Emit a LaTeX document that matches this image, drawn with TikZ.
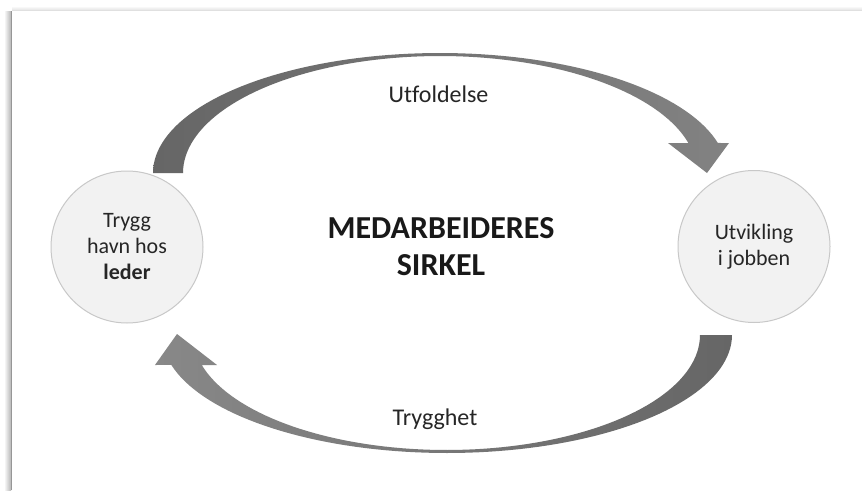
\documentclass[tikz,border=0pt]{standalone}
\usepackage{fontspec}
\setmainfont{Carlito}[Ligatures={NoCommon}]
\definecolor{arrowdark}{RGB}{102,102,102}
\definecolor{arrowlightA}{RGB}{130,130,130}
\definecolor{arrowlightB}{RGB}{136,136,136}
\definecolor{discfill}{RGB}{242,242,242}
\definecolor{discline}{RGB}{200,200,200}
\definecolor{framecol}{RGB}{150,150,150}
\begin{document}
\begin{tikzpicture}[x=1pt,y=-1pt,
  disc/.style={circle, draw=discline, line width=1pt, fill=discfill,
    minimum size=152pt, inner sep=0pt, align=center,
    font=\fontsize{22}{26}\selectfont, text=black!85},
  flowlabel/.style={anchor=base, font=\fontsize{24}{28}\selectfont, text=black!85},
  titletext/.style={align=center, inner sep=0pt,
    font=\bfseries\fontsize{32}{37}\selectfont, text=black!90}]
\useasboundingbox (0,0) rectangle (862,490);
\fill[white] (0,0) rectangle (862,490);

% frame edge with soft shadow
\shade[left color=white, right color=framecol!70] (4,11) rectangle (11,490);
\draw[framecol, line width=1.2pt] (11.8,11) -- (11.8,490);
\shade[top color=white, bottom color=black!12] (12,6) rectangle (862,10.5);
\draw[black!12, line width=1pt] (12,10.8) -- (862,10.8);

% upper curved arrow
\shade[left color=arrowdark, right color=arrowlightA]
  (153,173) -- plot[domain=180:14.48, samples=80] ({440+287*cos(\x)}, {173-120*sin(\x)})
  -- (729,143) -- (707,173) -- (668,143) -- (688.4,143)
  -- plot[domain=14.86:180, samples=80] ({440+257*cos(\x)}, {173-117*sin(\x)})
  -- cycle;

% lower curved arrow
\shade[right color=arrowdark, left color=arrowlightB]
  (732,335) -- plot[domain=0:165.3, samples=80] ({447+285*cos(\x)}, {335+118*sin(\x)})
  -- (155,365) -- (177,334) -- (217,365) -- (201.8,365)
  -- plot[domain=164.87:0, samples=80] ({446.5+253.5*cos(\x)}, {335+115*sin(\x)})
  -- cycle;

% the two circles
\node[disc] (haven) at (127,247) {Trygg\\havn hos\\\textbf{leder}};
\node[disc] (growth) at (754,246.5) {Utvikling\\i jobben};

% labels
\node[flowlabel] (unfold) at (438.5,102) {Utfoldelse};
\node[flowlabel] (safety) at (435,425) {Trygghet};
\node[titletext] (title) at (441,246.5) {MEDARBEIDERES\\SIRKEL};
\end{tikzpicture}
\end{document}
